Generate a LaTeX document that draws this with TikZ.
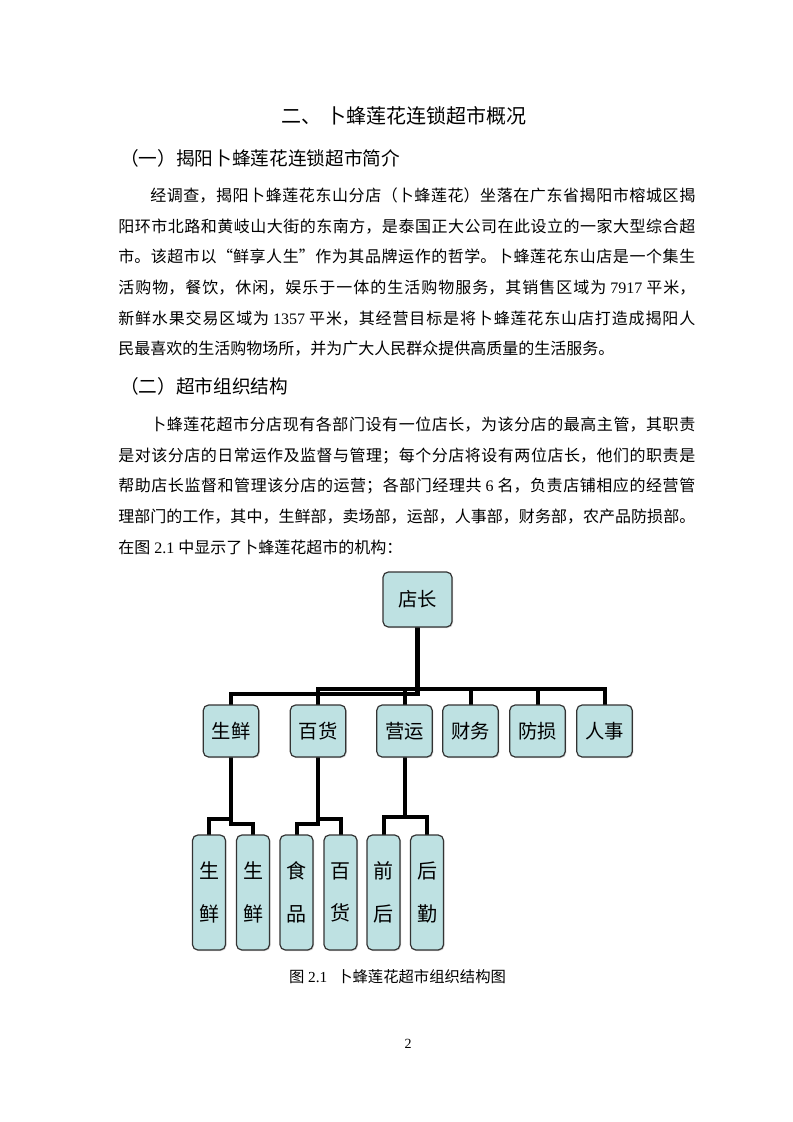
\documentclass[tikz,border=0pt]{standalone}
\usepackage{fontspec}
\setmainfont{Noto Sans CJK SC}
\newfontfamily\tnr{Liberation Serif}
\usetikzlibrary{shadows}
\definecolor{boxfill}{RGB}{190,225,226}
\pgfdeclarelayer{background}
\pgfsetlayers{background,main}
\XeTeXlinebreaklocale "zh"
\XeTeXlinebreakskip=0pt plus 2pt minus 0.5pt
% one justified line of the text block
\newcommand{\fullline}[1]{\parbox[b]{432.75pt}{\parindent=0pt\parfillskip=0pt\relax #1}}
% a number set in the Latin face, with fixed spaces round it
\newcommand{\num}[1]{\hspace{0.25em}{\tnr #1}\hspace{0.25em}}
\begin{document}
\begin{tikzpicture}[x=0.75pt, y=-0.75pt,
    txt/.style={inner sep=0pt, anchor=west, text height=0.88em, text depth=0.12em},
    body/.style={txt, font=\fontsize{12pt}{14pt}\selectfont},
    head/.style={txt, font=\fontsize{14pt}{16pt}\selectfont},
    unit/.style={draw=black!80, line width=0.9pt, fill=boxfill, rounded corners=4pt,
      drop shadow={shadow xshift=0.8pt, shadow yshift=-0.8pt, opacity=0.3},
      inner sep=0pt, font=\fontsize{14.5pt}{16pt}\selectfont},
    wide/.style={unit, minimum width=41.6pt, minimum height=39pt},
    tall/.style={unit, minimum width=24.75pt, minimum height=86.25pt, align=center,
      font=\fontsize{15pt}{32pt}\selectfont},
    wire/.style={line width=3pt, line cap=rect, line join=miter}]
  \begin{pgfonlayer}{background}
    \path[use as bounding box, fill=white] (0,0) rectangle (793,1122);
  \end{pgfonlayer}

  % text
  \node[txt, anchor=center, font=\fontsize{15pt}{18pt}\selectfont] (title) at (404,118) {二、 卜蜂莲花连锁超市概况};
  \node[head] (secA) at (120,160) {（一）揭阳卜蜂莲花连锁超市简介};
  \node[body] (pa1) at (118,196) {\fullline{\hspace*{2em}经调查，揭阳卜蜂莲花东山分店（卜蜂莲花）坐落在广东省揭阳市榕城区揭}};
  \node[body] (pa2) at (118,227) {\fullline{阳环市北路和黄岐山大街的东南方，是泰国正大公司在此设立的一家大型综合超}};
  \node[body] (pa3) at (118,257) {\fullline{市。该超市以“鲜享人生”作为其品牌运作的哲学。卜蜂莲花东山店是一个集生}};
  \node[body] (pa4) at (118,288) {\fullline{活购物，餐饮，休闲，娱乐于一体的生活购物服务，其销售区域为\num{7917}平米，}};
  \node[body] (pa5) at (118,319) {\fullline{新鲜水果交易区域为\num{1357}平米，其经营目标是将卜蜂莲花东山店打造成揭阳人}};
  \node[body] (pa6) at (118,349) {民最喜欢的生活购物场所，并为广大人民群众提供高质量的生活服务。};
  \node[head] (secB) at (120,388) {（二）超市组织结构};
  \node[body] (pb1) at (118,425) {\fullline{\hspace*{2em}卜蜂莲花超市分店现有各部门设有一位店长，为该分店的最高主管，其职责}};
  \node[body] (pb2) at (118,456) {\fullline{是对该分店的日常运作及监督与管理；每个分店将设有两位店长，他们的职责是}};
  \node[body] (pb3) at (118,486) {\fullline{帮助店长监督和管理该分店的运营；各部门经理共\num{6}名，负责店铺相应的经营管}};
  \node[body] (pb4) at (118,517) {\fullline{理部门的工作，其中，生鲜部，卖场部，运部，人事部，财务部，农产品防损部。}};
  \node[body] (pb5) at (118,548) {在图\num{2.1}中显示了卜蜂莲花超市的机构：};

  % chart
  \node[unit, minimum width=51.75pt, minimum height=41.25pt] (ceo) at (417.5,599.5) {店长};
  \foreach \n/\x/\t in {sx/231/生鲜, bh/318/百货, yy/404.5/营运, cw/470.5/财务, fs/537.5/防损, rs/604.5/人事}
    \node[wide] (\n) at (\x,731) {\t};
  \foreach \n/\x/\a/\b in {sxa/209/生/鲜, sxb/253/生/鲜, bha/296.5/食/品, bhb/340.5/百/货, yya/383.5/前/后, yyb/427/后/勤}
    \node[tall] (\n) at (\x,892.5) {\a\\\b};

  \coordinate (busA) at (0,688.5);
  \coordinate (busB) at (0,693.5);
  \coordinate (forkA) at (0,819);
  \coordinate (forkB) at (0,824);
  \coordinate (forkC) at (0,817);
  \begin{pgfonlayer}{background}
    \draw[wire, line width=3.8pt] (ceo.center) -- (ceo |- busB);
    \draw[wire] (sx.center) |- (ceo |- busB);
    \draw[wire] (bh.center) |- (rs |- busA) -- (rs.center);
    \foreach \n in {yy,cw,fs}
      \draw[wire] (\n.center) -- (\n |- busA);
    \draw[wire] (sx.center) -- (sx |- forkB) -| (sxb.center);
    \draw[wire] (sx |- forkA) -| (sxa.center);
    \draw[wire] (bh.center) -- (bh |- forkB) -| (bha.center);
    \draw[wire] (bh |- forkA) -| (bhb.center);
    \draw[wire] (yy.center) -- (yy |- forkC);
    \draw[wire] (yya.center) |- (yy |- forkC) -| (yyb.center);
  \end{pgfonlayer}

  \node[txt, anchor=center, font=\fontsize{11.5pt}{13pt}\selectfont] (caption) at (397.5,977) {图\num{2.1}\hspace{0.4em}卜蜂莲花超市组织结构图};
  \node[txt, anchor=center, font=\tnr\fontsize{10.5pt}{12pt}\selectfont] (pageno) at (408,1043) {2};
\end{tikzpicture}
\end{document}
